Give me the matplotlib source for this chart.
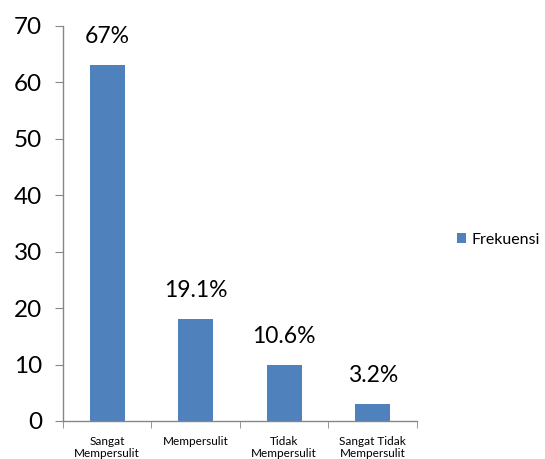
import matplotlib
matplotlib.use("Agg")
import matplotlib.pyplot as plt
import numpy as np

categories = ["Sangat\nMempersulit", "Mempersulit", "Tidak\nMempersulit", "Sangat Tidak\nMempersulit"]
frekuensi = [63, 18, 10, 3]
persen_labels = ["67%", "19.1%", "10.6%", "3.2%"]
yticks = [0, 10, 20, 30, 40, 50, 60, 70]

plt.rcParams['font.family'] = ['Lato', 'DejaVu Sans']

fig = plt.figure(figsize=(5.45, 4.59), dpi=100)
ax = fig.add_axes([0.1156, 0.0828, 0.6494, 0.8606])

x = np.arange(len(categories))
color = '#4F81BD'
bars = ax.bar(x, frekuensi, width=0.4, color=color, label='Frekuensi', zorder=2)

for xi, v, lab in zip(x, frekuensi, persen_labels):
    ax.annotate(lab, (xi, v), xytext=(0, 13), textcoords='offset points',
                ha='center', va='bottom', fontsize=16.5, color='black')

ax.set_xlim(-0.5, len(categories) - 0.5)
ax.set_ylim(0, 70)
ax.set_yticks(yticks)
ax.set_yticklabels([str(t) for t in yticks], fontsize=17.5)

ax.set_xticks(x)
ax.set_xticklabels(categories, fontsize=8.5, linespacing=1.1)
ax.set_xticks(np.arange(len(categories) + 1) - 0.5, minor=True)
ax.tick_params(axis='x', which='major', length=0, pad=11)
ax.tick_params(axis='x', which='minor', length=5, color='#868686', direction='out')
ax.tick_params(axis='y', length=6, color='#868686', direction='out', pad=9)

for s in ['top', 'right']:
    ax.spines[s].set_visible(False)
for s in ['left', 'bottom']:
    ax.spines[s].set_color('#868686')
    ax.spines[s].set_linewidth(1.0)

fig.legend(handles=[bars], labels=['Frekuensi'], loc='center left',
           bbox_to_anchor=(0.832, 0.478), frameon=False, fontsize=11.5,
           handlelength=0.6, handleheight=0.6, handletextpad=0.3,
           borderpad=0.2, borderaxespad=0.0)

fig.savefig('out.png', dpi=100)
